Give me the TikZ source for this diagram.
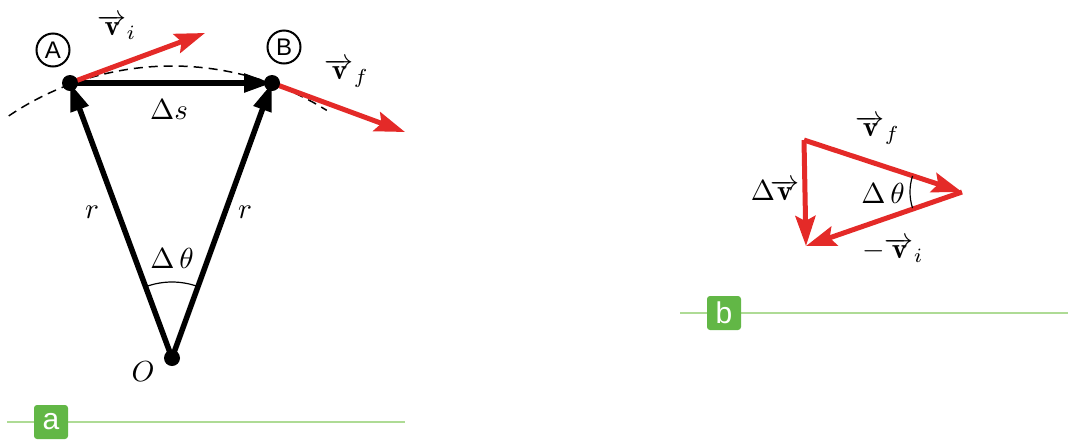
\documentclass[tikz,border=0pt]{standalone}
\usepackage{fontspec}
\setsansfont{Liberation Sans}
\usetikzlibrary{arrows.meta}
\definecolor{vred}{HTML}{E42A28}
\definecolor{gbox}{HTML}{62B746}
\definecolor{gline}{HTML}{AEDB95}
\begin{document}
\begin{tikzpicture}[x=1pt,y=-1pt,
  blk/.style={line width=5.5pt,-{Triangle[length=28pt,width=18pt]}},
  redarr/.style={vred,line width=5pt,-{Stealth[length=30pt,width=20pt,inset=5pt]}},
  lbl/.style={scale=2.9,inner sep=0pt},
  dot/.style={circle,fill=black,minimum size=16pt,inner sep=0pt},
  circlbl/.style={circle,draw,line width=2pt,minimum size=33pt,inner sep=0pt,font=\sffamily\fontsize{24}{24}\selectfont},
  gtag/.style={fill=gbox,rounded corners=3pt,minimum size=34pt,inner sep=0pt,text=white,font=\sffamily\fontsize{30}{30}\selectfont},
  gl/.style={gline,line width=2.5pt},
  angarc/.style={line width=1.2pt}]
\useasboundingbox (0,0) rectangle (1068,440);
% panel a
\coordinate (A) at (70,83);
\coordinate (B) at (272,83);
\coordinate (O) at (172,358);
\coordinate (vi) at (205,33);
\coordinate (vf) at (405,132);
\draw[dashed,line width=1.5pt,dash pattern=on 9pt off 6pt] (O) ++(-124:292) arc[start angle=-124,end angle=-58,radius=292];
\draw[blk] (O) -- (A);
\draw[blk] (O) -- (B);
\draw[blk] (A) -- (B);
\draw[redarr] (A) -- (vi);
\draw[redarr] (B) -- (vf);
\draw[angarc] (O) ++(-111:76) arc[start angle=-111,end angle=-69,radius=76];
\node[dot] (Ad) at (A) {};
\node[dot] (Bd) at (B) {};
\node[dot] (Od) at (O) {};
\node[circlbl] (cA) at (53,50) {A};
\node[circlbl] (cB) at (284,47) {B};
\node[lbl] (lvi) at (117,27) {$\overrightarrow{\mathbf v}_i$};
\node[lbl] (lvf) at (347,73) {$\overrightarrow{\mathbf v}_f$};
\node[lbl] (lds) at (169,110) {$\Delta s$};
\node[lbl] (lr1) at (92,212) {$r$};
\node[lbl] (lr2) at (245,212) {$r$};
\node[lbl] (lth) at (172,258) {$\Delta\,\theta$};
\node[lbl] (lO) at (143,372) {$O$};
\draw[gl] (7,422) -- (405,422);
\node[gtag] (ta) at (51,422) {a};
% panel b
\coordinate (P) at (804,140);
\coordinate (R) at (962,192);
\coordinate (Q) at (806,246);
\draw[redarr,line join=round] (P) -- (R);
\draw[redarr] (R) -- (Q);
\draw[redarr] (P) -- (Q);
\draw[angarc] (R) ++(162:52) arc[start angle=162,end angle=198,radius=52];
\node[lbl] (lvf2) at (878,130) {$\overrightarrow{\mathbf v}_f$};
\node[lbl] (ldv) at (775,190) {$\Delta\!\overrightarrow{\mathbf v}$};
\node[lbl] (lth2) at (883,193) {$\Delta\,\theta$};
\node[lbl] (lvi2) at (893,250) {$-\overrightarrow{\mathbf v}_i$};
\draw[gl] (680,313) -- (1068,313);
\node[gtag] (tb) at (724,313) {b};
\end{tikzpicture}
\end{document}
